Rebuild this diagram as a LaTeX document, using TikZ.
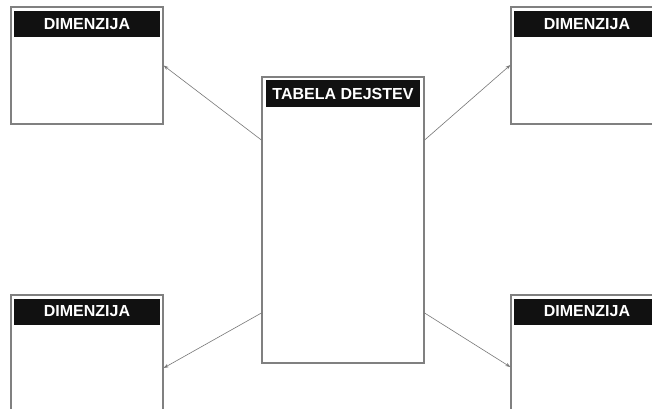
\documentclass[tikz,border=0pt]{standalone}
\usepackage{fontspec}
\setmainfont{Liberation Sans}
\usetikzlibrary{arrows.meta}
\definecolor{boxline}{RGB}{128,128,128}
\definecolor{conn}{RGB}{120,120,120}
\definecolor{hdr}{RGB}{17,17,17}
\tikzset{
  dimbox/.style={draw=boxline, line width=1.2pt, fill=white, minimum width=152pt, minimum height=117pt, inner sep=0pt},
  ctrbox/.style={draw=boxline, line width=1.2pt, fill=white, minimum width=162pt, minimum height=286pt, inner sep=0pt},
  hdrbar/.style={fill=hdr, text=white, font=\fontsize{16pt}{18pt}\selectfont\bfseries, inner sep=0pt, minimum height=26pt},
  conarrow/.style={draw=conn, line width=0.6pt, -{Stealth[length=5pt,width=3.5pt]}}
}
\begin{document}
\begin{tikzpicture}[x=1pt,y=-1pt]
\useasboundingbox (0,0) rectangle (652,408);
\clip (0,0) rectangle (652,408);
\fill[white] (0,0) rectangle (652,408);
% boxes
\node[dimbox] (tl) at (87,65.5) {};
\node[dimbox] (tr) at (587,65.5) {};
\node[dimbox] (bl) at (87,353.5) {};
\node[dimbox] (br) at (587,353.5) {};
\node[ctrbox] (ctr) at (343,220) {};
% headers
\node[hdrbar, minimum width=146pt] (htl) at (87,24) {DIMENZIJA};
\node[hdrbar, minimum width=146pt] (htr) at (587,24) {DIMENZIJA};
\node[hdrbar, minimum width=146pt] (hbl) at (87,311.5) {DIMENZIJA};
\node[hdrbar, minimum width=146pt] (hbr) at (587,311.5) {DIMENZIJA};
\node[hdrbar, minimum width=154pt, minimum height=27pt] (hctr) at (343,93.5) {TABELA DEJSTEV};
% connectors
\draw[conarrow] ([yshift=80pt]ctr.west) -- (tl.east);
\draw[conarrow] ([yshift=80pt]ctr.east) -- ([yshift=0.5pt]tr.west);
\draw[conarrow] ([yshift=-93pt]ctr.west) -- ([yshift=-14.5pt]bl.east);
\draw[conarrow] ([yshift=-93pt]ctr.east) -- ([yshift=-13.5pt]br.west);
\end{tikzpicture}
\end{document}
